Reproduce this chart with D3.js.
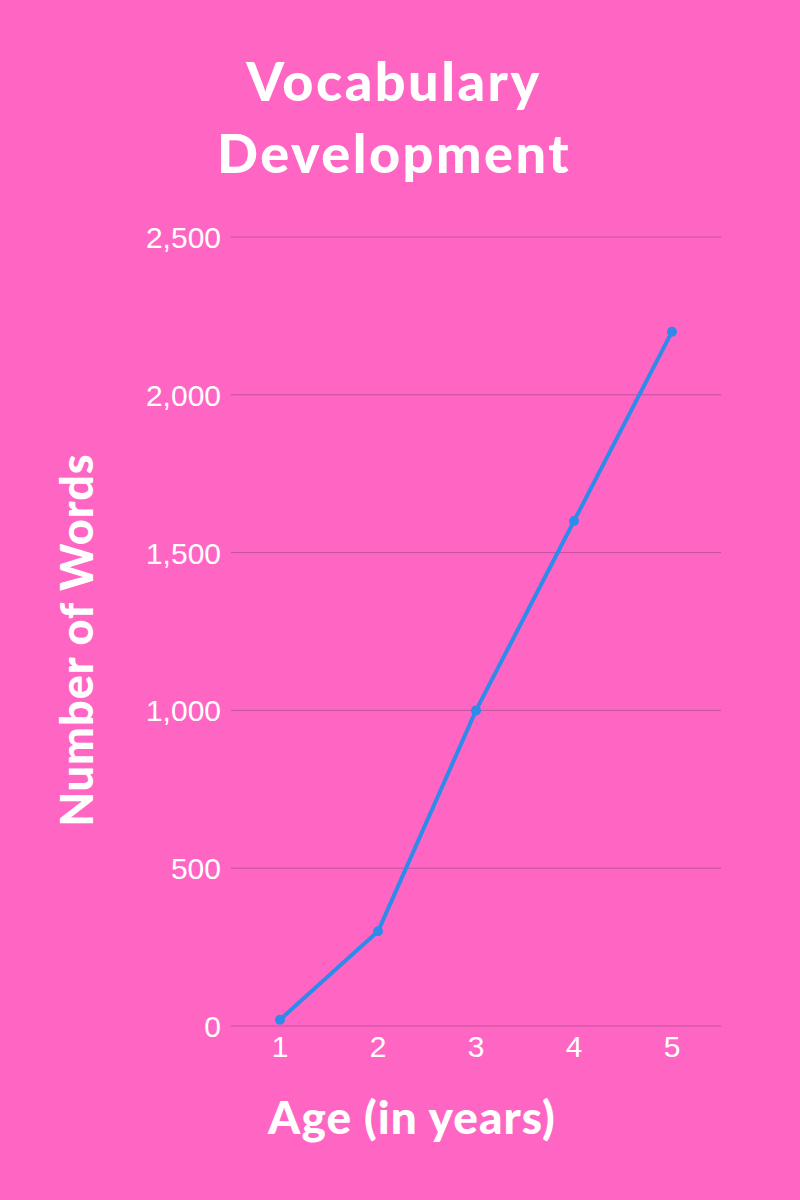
<!DOCTYPE html>
<html>
<head>
<meta charset="utf-8">
<script src="https://cdn.jsdelivr.net/npm/d3@7"></script>
<style>
  html, body { margin: 0; padding: 0; background: #FF66C4; }
  svg { display: block; }
</style>
</head>
<body>
<script>
const ages = ["1", "2", "3", "4", "5"];
const words = [20, 300, 1000, 1600, 2200];
const yTicks = [0, 500, 1000, 1500, 2000, 2500];
const titleLines = ["Vocabulary", "Development"];
const xTitle = "Age (in years)";
const yTitle = "Number of Words";

const W = 800, H = 1200;
const svg = d3.select("body").append("svg").attr("width", W).attr("height", H);
svg.append("rect").attr("width", W).attr("height", H).attr("fill", "#FF66C4");

const x = d3.scaleBand().domain(ages).range([231, 721]);
const y = d3.scaleLinear().domain([0, 2500]).range([1026, 237]);

const titleFont = "Lato, 'Open Sans', sans-serif";

// title
svg.append("g").selectAll("text").data(titleLines).join("text")
  .attr("x", 394).attr("y", (d, i) => 101 + i * 72)
  .attr("text-anchor", "middle")
  .attr("fill", "#fff")
  .attr("font-family", titleFont)
  .attr("font-weight", 900)
  .attr("font-size", 54)
  .attr("letter-spacing", 2.5)
  .text(d => d);

// grid
svg.append("g").selectAll("line").data(yTicks).join("line")
  .attr("x1", 231).attr("x2", 721)
  .attr("y1", d => y(d)).attr("y2", d => y(d))
  .attr("stroke", "#C2529C").attr("stroke-width", 1);

// y axis labels
const yAxis = d3.axisLeft(y).tickValues(yTicks).tickFormat(d3.format(",")).tickSize(0).tickPadding(0);
const gy = svg.append("g").attr("transform", "translate(221,0)").call(yAxis);
gy.select(".domain").remove();
gy.selectAll("text").attr("fill", "#fff").attr("font-family", "'Liberation Sans', Arial, sans-serif")
  .attr("font-size", 30).attr("dy", "0.35em");

// x axis labels
const xAxis = d3.axisBottom(x).tickSize(0).tickPadding(0);
const gx = svg.append("g").attr("transform", "translate(0,1034)").call(xAxis);
gx.select(".domain").remove();
gx.selectAll("text").attr("fill", "#fff").attr("font-family", "'Liberation Sans', Arial, sans-serif")
  .attr("font-size", 30).attr("dy", "0.75em");

// line
const cx = d => x(d) + x.bandwidth() / 2;
const data = ages.map((a, i) => ({a, v: words[i]}));
svg.append("path").datum(data)
  .attr("fill", "none").attr("stroke", "#2E8BEA").attr("stroke-width", 4)
  .attr("stroke-linejoin", "round")
  .attr("d", d3.line().x(d => cx(d.a)).y(d => y(d.v)));
svg.append("g").selectAll("circle").data(data).join("circle")
  .attr("cx", d => cx(d.a)).attr("cy", d => y(d.v)).attr("r", 5)
  .attr("fill", "#2E8BEA");

// axis titles
svg.append("text").attr("x", 412).attr("y", 1134)
  .attr("text-anchor", "middle").attr("fill", "#fff")
  .attr("font-family", titleFont).attr("font-weight", 900).attr("font-size", 46)
  .attr("letter-spacing", 1)
  .text(xTitle);
svg.append("text").attr("transform", "translate(93,640) rotate(-90)")
  .attr("text-anchor", "middle").attr("fill", "#fff")
  .attr("font-family", titleFont).attr("font-weight", 900).attr("font-size", 45)
  .attr("letter-spacing", 1)
  .text(yTitle);
</script>
</body>
</html>
